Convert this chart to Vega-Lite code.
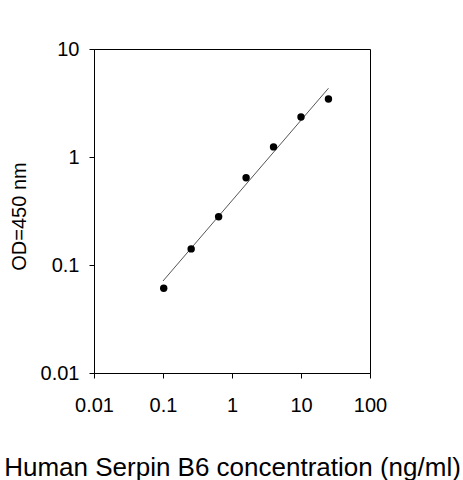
{
  "$schema": "https://vega.github.io/schema/vega-lite/v6.json",
  "description": "Human Serpin B6 ELISA standard curve, log-log",
  "autosize": "none",
  "padding": {"left": 94, "top": 49, "right": 93, "bottom": 107},
  "width": 276,
  "height": 324,
  "config": {
    "font": "Liberation Sans",
    "view": {"stroke": "black", "strokeWidth": 1},
    "axis": {
      "grid": false,
      "domainColor": "black",
      "tickColor": "black",
      "labelColor": "black",
      "titleColor": "black",
      "labelFont": "Liberation Sans",
      "titleFont": "Liberation Sans",
      "labelFontSize": 20,
      "titleFontWeight": "normal",
      "tickSize": 5
    }
  },
  "datasets": {
    "standards": [
      {"conc": 0.1024, "od": 0.061},
      {"conc": 0.256, "od": 0.141},
      {"conc": 0.64, "od": 0.28},
      {"conc": 1.6, "od": 0.643},
      {"conc": 4, "od": 1.24},
      {"conc": 10, "od": 2.35},
      {"conc": 25, "od": 3.44}
    ],
    "fit": [
      {"conc": 0.1, "od": 0.0711},
      {"conc": 25, "od": 4.33}
    ]
  },
  "layer": [
    {
      "data": {"name": "fit"},
      "mark": {"type": "line", "color": "#555555", "strokeWidth": 1},
      "encoding": {
        "x": {"field": "conc", "type": "quantitative"},
        "y": {"field": "od", "type": "quantitative"}
      }
    },
    {
      "data": {"name": "standards"},
      "mark": {"type": "circle", "color": "black", "opacity": 1, "size": 55},
      "encoding": {
        "x": {
          "field": "conc",
          "type": "quantitative",
          "scale": {"type": "log", "domain": [0.01, 100], "nice": false},
          "axis": {
            "title": "Human Serpin B6 concentration (ng/ml)",
            "titleFontSize": 26,
            "titleBaseline": "alphabetic",
            "titleY": 102,
            "values": [0.01, 0.1, 1, 10, 100],
            "format": "~g",
            "labelPadding": 17,
            "labelFlush": false,
            "labelOverlap": false
          }
        },
        "y": {
          "field": "od",
          "type": "quantitative",
          "scale": {"type": "log", "domain": [0.01, 10], "nice": false},
          "axis": {
            "title": "OD=450 nm",
            "titleFontSize": 20,
            "titleBaseline": "alphabetic",
            "titleAlign": "center",
            "titleX": -69,
            "titleY": 167,
            "values": [0.01, 0.1, 1, 10],
            "format": "~g",
            "labelPadding": 10,
            "labelFlush": false,
            "labelOverlap": false
          }
        }
      }
    }
  ]
}
